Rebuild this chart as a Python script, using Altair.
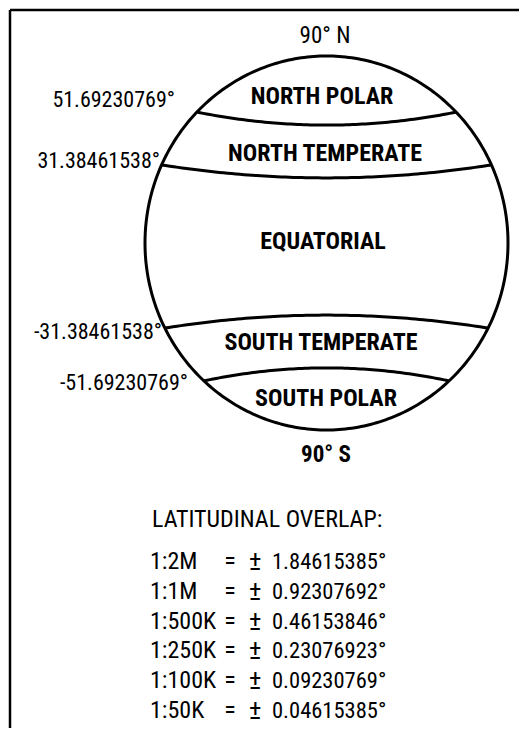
import numpy as np
import pandas as pd
import altair as alt

# ---- data ----
zone_names = ["NORTH POLAR", "NORTH TEMPERATE", "EQUATORIAL", "SOUTH TEMPERATE", "SOUTH POLAR"]
boundary_lats = [51.69230769, 31.38461538, -31.38461538, -51.69230769]
pole_labels = ["90° N", "90° S"]
overlap_title = "LATITUDINAL  OVERLAP:"
map_scales = ["1:2M", "1:1M", "1:500K", "1:250K", "1:100K", "1:50K"]
overlap_deg = [1.84615385, 0.92307692, 0.46153846, 0.23076923, 0.09230769, 0.04615385]

# ---- layout ----
W, H = 511, 720
xs = alt.Scale(domain=[8, 8 + W], nice=False, zero=False)
ys = alt.Scale(domain=[8, 8 + H], nice=False, zero=False, reverse=True)
FONT = "Roboto Condensed, DejaVu Sans Condensed, sans-serif"

CX, CY, RX, RY = 326.5, 243.0, 181.5, 187.0   # globe outline
LY0, K, SAG = 246.5, 2.6, 13.0                 # schematic latitude mapping


def X(f="x"):
    return alt.X(f"{f}:Q", scale=xs, axis=None)


def Y(f="y"):
    return alt.Y(f"{f}:Q", scale=ys, axis=None)


# globe outline
t = np.linspace(0, 2 * np.pi, 361)
circle_df = pd.DataFrame({"x": CX + RX * np.cos(t), "y": CY + RY * np.sin(t), "i": np.arange(len(t))})
circle = alt.Chart(circle_df).mark_line(color="black", strokeWidth=3).encode(
    x=X(), y=Y(), order="i:Q")

# zone boundary lines
rows = []
for k, lat in enumerate(boundary_lats):
    ye = LY0 - K * lat
    dx = RX * np.sqrt(max(0.0, 1 - ((ye - CY) / RY) ** 2))
    u = np.linspace(-1, 1, 81)
    for j, uu in enumerate(u):
        rows.append({"lat": lat, "x": CX + dx * uu, "y": ye + np.sign(lat) * SAG * (1 - uu ** 2), "i": j})
lines_df = pd.DataFrame(rows)
bands = alt.Chart(lines_df).mark_line(color="black", strokeWidth=3).encode(
    x=X(), y=Y(), detail="lat:N", order="i:Q")

# frame (top and left edges)
frame_df = pd.DataFrame({"x": [10, 10], "y": [10, 10], "x2": [519, 10], "y2": [10, 728]})
frame = alt.Chart(frame_df).mark_rule(color="black", strokeWidth=2.5).encode(
    x=X(), y=Y(), x2="x2:Q", y2="y2:Q")

# zone labels
zone_df = pd.DataFrame({"t": zone_names,
                        "x": [322, 325, 323, 321, 326],
                        "y": [97, 154, 242, 343, 399]})
zones = alt.Chart(zone_df).mark_text(font=FONT, fontSize=24, fontWeight="bold", color="black",
                                     align="center", baseline="middle").encode(
    x=X(), y=Y(), text="t:N")

# boundary latitude labels
lat_df = pd.DataFrame({"t": [f"{v:.8f}°" for v in boundary_lats],
                       "x": [175, 160, 162, 188],
                       "y": [100, 161, 332, 383]})
latl = alt.Chart(lat_df).mark_text(font=FONT, fontSize=22, color="black",
                                   align="right", baseline="middle").encode(
    x=X(), y=Y(), text="t:N")

# pole labels
poleN = alt.Chart(pd.DataFrame({"t": [pole_labels[0]], "x": [325], "y": [36]})).mark_text(
    font=FONT, fontSize=23, color="black", align="center", baseline="middle").encode(
    x=X(), y=Y(), text="t:N")
poleS = alt.Chart(pd.DataFrame({"t": [pole_labels[1]], "x": [326], "y": [455]})).mark_text(
    font=FONT, fontSize=23, fontWeight="bold", color="black", align="center", baseline="middle").encode(
    x=X(), y=Y(), text="t:N")

# overlap table
title = alt.Chart(pd.DataFrame({"t": [overlap_title], "x": [152], "y": [520]})).mark_text(
    font=FONT, fontSize=24, color="black", align="left", baseline="middle").encode(
    x=X(), y=Y(), text="t:N")

n = len(map_scales)
row_y = [562 + 29.8 * i for i in range(n)]
tab_scale = pd.DataFrame({"t": map_scales, "x": [150] * n, "y": row_y})
tab_eq = pd.DataFrame({"t": ["="] * n, "x": [230] * n, "y": row_y})
tab_pm = pd.DataFrame({"t": ["±"] * n, "x": [255] * n, "y": row_y})
tab_val = pd.DataFrame({"t": [f"{v:.8f}°" for v in overlap_deg], "x": [272] * n, "y": row_y})

def txt(df, align, size):
    return alt.Chart(df).mark_text(font=FONT, fontSize=size, color="black",
                                   align=align, baseline="middle").encode(
        x=X(), y=Y(), text="t:N")

table = (txt(tab_scale, "left", 24) + txt(tab_eq, "center", 24) + txt(tab_pm, "center", 27)
         + txt(tab_val, "left", 22.5))

chart = alt.layer(frame, circle, bands, zones, latl, poleN, poleS, title, table).properties(
    width=W, height=H, autosize=alt.AutoSizeParams(type="none"), padding=0
).configure_view(stroke=None)

chart.save("out.html", embed_options={"renderer": "svg", "actions": False})
